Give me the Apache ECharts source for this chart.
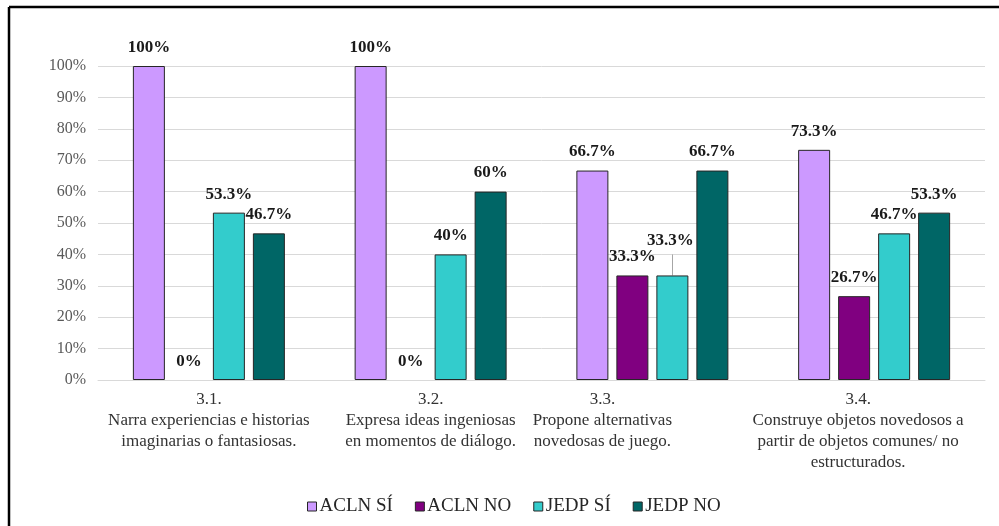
<!DOCTYPE html>
<html>
<head>
<meta charset="utf-8">
<script src="https://cdn.jsdelivr.net/npm/echarts@6/dist/echarts.min.js"></script>
<style>
  html, body { margin: 0; padding: 0; background: #fff; }
  #main { width: 999px; height: 526px; }
</style>
</head>
<body>
<div id="main"></div>
<script>
// categorias (texto del eje X)
var categorias = [
    '3.1.\nNarra experiencias e historias\nimaginarias o fantasiosas.',
    '3.2.\nExpresa ideas ingeniosas\nen momentos de diálogo.',
    '3.3.\nPropone alternativas\nnovedosas de juego.',
    '3.4.\nConstruye objetos novedosos a\npartir de objetos comunes/ no\nestructurados.'
];
var series_nombres = ['ACLN SÍ', 'ACLN NO', 'JEDP SÍ', 'JEDP NO'];
var acln_si = [100, 100, 66.7, 73.3];
var acln_no = [0, 0, 33.3, 26.7];
var jedp_si = [53.3, 40, 33.3, 46.7];
var jedp_no = [46.7, 60, 66.7, 53.3];
var ticks_y = ['0%', '10%', '20%', '30%', '40%', '50%', '60%', '70%', '80%', '90%', '100%'];

var colores = ['#cc99ff', '#800080', '#33cccc', '#006666'];
var valores = [acln_si, acln_no, jedp_si, jedp_no];
var fuente = '"Liberation Serif", "Times New Roman", serif';

// desplazamiento de las etiquetas de categoria (como en Excel)
var desplaza = [0, 0, 50, 16];

var myChart = echarts.init(document.getElementById('main'));

var series = valores.map(function (arr, i) {
    return {
        name: series_nombres[i],
        type: 'bar',
        barWidth: 32,
        barGap: '25%',
        itemStyle: { color: colores[i], borderColor: '#262626', borderWidth: 1 },
        label: {
            show: true,
            position: 'top',
            distance: 10,
            fontFamily: fuente,
            fontWeight: 'bold',
            fontSize: 17,
            color: '#1a1a1a',
            formatter: function (p) { return p.value + '%'; }
        },
        data: arr.map(function (v, j) {
            var d = { value: v };
            if (v === 0) d.itemStyle = { borderWidth: 0 };
            // la etiqueta 33.3% de JEDP SÍ en 3.3 va desplazada con linea guia
            if (i === 2 && j === 2) d.label = { offset: [-2, -16] };
            return d;
        })
    };
});

var option = {
    animation: false,
    backgroundColor: '#fff',
    legend: {
        bottom: 5,
        left: 302,
        itemWidth: 9,
        itemHeight: 9,
        itemGap: 22,
        icon: 'rect',
        itemStyle: { borderColor: '#262626', borderWidth: 1 },
        textStyle: { fontFamily: fuente, fontSize: 19, color: '#262626', padding: [0, 0, 0, -2] },
        data: series_nombres
    },
    grid: { left: 98, right: 14, top: 66, bottom: 146 },
    xAxis: {
        type: 'category',
        data: categorias.map(function (c, i) {
            return { value: c, textStyle: { padding: [0, desplaza[i] * 2, 0, 0] } };
        }),
        axisLine: { lineStyle: { color: '#d9d9d9' } },
        axisTick: { show: false },
        axisLabel: {
            interval: 0,
            fontFamily: fuente,
            fontSize: 17,
            lineHeight: 21,
            color: '#333',
            margin: 9
        }
    },
    yAxis: {
        type: 'value',
        min: 0,
        max: 100,
        interval: 10,
        axisLine: { show: false },
        axisTick: { show: false },
        splitLine: { lineStyle: { color: '#d9d9d9', width: 1 } },
        axisLabel: {
            fontFamily: fuente,
            fontSize: 16,
            color: '#595959',
            margin: 12,
            formatter: function (v) { return ticks_y[Math.round(v / 10)]; }
        }
    },
    series: series
};

myChart.setOption(option);

// marco (solo arriba e izquierda visibles) y linea guia del 33.3%
var p = myChart.convertToPixel({ seriesIndex: 2 }, [2, jedp_si[2]]);
var cx = Math.round(p[0] + 20) + 0.5;   // centro de la tercera barra del grupo
myChart.setOption({
    graphic: [
        { type: 'line', shape: { x1: 9, y1: 7, x2: 999, y2: 7 }, style: { stroke: '#000', lineWidth: 2.5 }, silent: true },
        { type: 'line', shape: { x1: 9, y1: 7, x2: 9, y2: 526 }, style: { stroke: '#000', lineWidth: 2.5 }, silent: true },
        { type: 'line', shape: { x1: cx, y1: p[1] - 21, x2: cx, y2: p[1] }, style: { stroke: '#a6a6a6', lineWidth: 1 }, silent: true }
    ]
});
</script>
</body>
</html>
